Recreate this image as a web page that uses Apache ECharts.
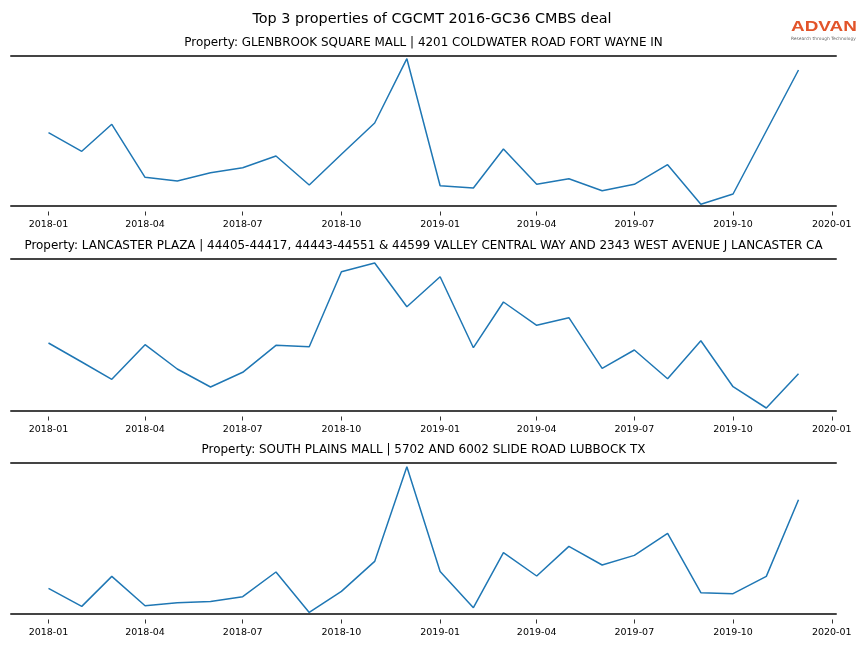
<!DOCTYPE html>
<html>
<head>
<meta charset="utf-8">
<script src="https://cdn.jsdelivr.net/npm/echarts@6/dist/echarts.min.js"></script>
<style>html,body{margin:0;padding:0;background:#fff}#c{width:864px;height:648px}</style>
</head>
<body>
<div id="c"></div>
<script>
// ---- data ----
const months = ['2018-01','2018-02','2018-03','2018-04','2018-05','2018-06','2018-07','2018-08','2018-09','2018-10','2018-11','2018-12',
                '2019-01','2019-02','2019-03','2019-04','2019-05','2019-06','2019-07','2019-08','2019-09','2019-10','2019-11','2019-12'];
const glenbrook = [73.3,54.7,81.7,28.7,25,33.3,38.3,50,21,51.7,83,147.3,20.3,18,57,21.7,27.3,15.3,21.7,41.3,1.7,12,75,136];
const lancaster = [68,49,31.7,66.3,42,24,38.7,65.7,64.3,139.3,148,104.3,134.3,63.3,109,85.7,93.3,42.7,61,32.3,70.3,24.3,3,37.3];
const southPlains = [25.6,7.6,37.6,8.3,11.3,12.6,17.3,42,1.6,22.6,52.6,147.3,42.6,6.3,61.3,38,67.6,49,58.6,80.6,21.3,20.3,37.6,114.3];
const tickLabels = ['2018-01','2018-04','2018-07','2018-10','2019-01','2019-04','2019-07','2019-10','2020-01'];
const panelTitles = [
  'Property: GLENBROOK SQUARE MALL | 4201 COLDWATER ROAD FORT WAYNE IN',
  'Property: LANCASTER PLAZA | 44405-44417, 44443-44551 & 44599 VALLEY CENTRAL WAY AND 2343 WEST AVENUE J LANCASTER CA',
  'Property: SOUTH PLAINS MALL | 5702 AND 6002 SLIDE ROAD LUBBOCK TX'
];
const mainTitle = 'Top 3 properties of CGCMT 2016-GC36 CMBS deal';

// ---- build ----
function ts(s){ const p = s.split('-'); return Date.UTC(+p[0], +p[1]-1, 1); }
const first = ts(months[0]), last = ts(months[months.length-1]);
const pad = (last - first) * 0.05;
const xMin = first - pad, xMax = last + pad;
const tickVals = tickLabels.map(ts);
const fmt = v => { const d = new Date(v); return d.getUTCFullYear() + '-' + String(d.getUTCMonth()+1).padStart(2,'0'); };

const font = 'DejaVu Sans';
const grids = [
  {left: 11, right: 28, top: 56, height: 150},
  {left: 11, right: 28, top: 259, height: 152},
  {left: 11, right: 28, top: 463, height: 151}
];
const yMax = [150, 152, 151];
const seriesData = [glenbrook, lancaster, southPlains];
const spine = {show: true, lineStyle: {color: '#444', width: 2}};
const axCenter = (11 + 836) / 2;

const xAxis = [], yAxis = [], series = [], graphics = [];
grids.forEach((g, i) => {
  xAxis.push({
    type: 'value', gridIndex: i, min: xMin, max: xMax, position: 'bottom', scale: true,
    axisLine: spine,
    axisTick: {show: true, length: 10, lineStyle: {color: '#333', width: 1, type: [0.001, 5.5, 4, 20]}, customValues: tickVals},
    axisLabel: {show: true, customValues: tickVals, margin: 14, fontFamily: font, fontSize: 9.5, color: '#000',
      hideOverlap: false, formatter: fmt},
    splitLine: {show: false}
  });
  xAxis.push({
    type: 'value', gridIndex: i, min: 0, max: 1, position: 'top',
    axisLine: spine, axisTick: {show: false}, axisLabel: {show: false}, splitLine: {show: false}
  });
  yAxis.push({type: 'value', gridIndex: i, min: 0, max: yMax[i], show: false, splitLine: {show: false}});
  series.push({
    type: 'line', xAxisIndex: i*2, yAxisIndex: i, showSymbol: false, smooth: false,
    lineStyle: {color: '#1f77b4', width: 1.5}, itemStyle: {color: '#1f77b4'},
    data: months.map((m, k) => [ts(m), seriesData[i][k]])
  });
  graphics.push({
    type: 'text', x: axCenter, y: g.top - 13,
    style: {text: panelTitles[i], align: 'center', verticalAlign: 'middle', font: '11.95px "DejaVu Sans"', fill: '#000'}
  });
});
graphics.push({type: 'text', x: 432, y: 19,
  style: {text: mainTitle, align: 'center', verticalAlign: 'middle', font: '14.4px "DejaVu Sans"', fill: '#000'}});
graphics.push({type: 'text', x: 791, y: 27, scaleX: 1.22, originX: 0, originY: 0,
  style: {text: 'ADVAN', align: 'left', verticalAlign: 'middle', font: 'bold 15.5px "Liberation Sans"', fill: '#e2542a'}});
graphics.push({type: 'text', x: 791, y: 38.5,
  style: {text: 'Research through Technology', align: 'left', verticalAlign: 'middle', font: '4.4px "DejaVu Sans"', fill: '#666'}});

const chart = echarts.init(document.getElementById('c'), null, {renderer: 'canvas'});
chart.setOption({
  backgroundColor: '#fff',
  animation: false,
  grid: grids,
  xAxis: xAxis,
  yAxis: yAxis,
  series: series,
  graphic: graphics
});
</script>
</body>
</html>
